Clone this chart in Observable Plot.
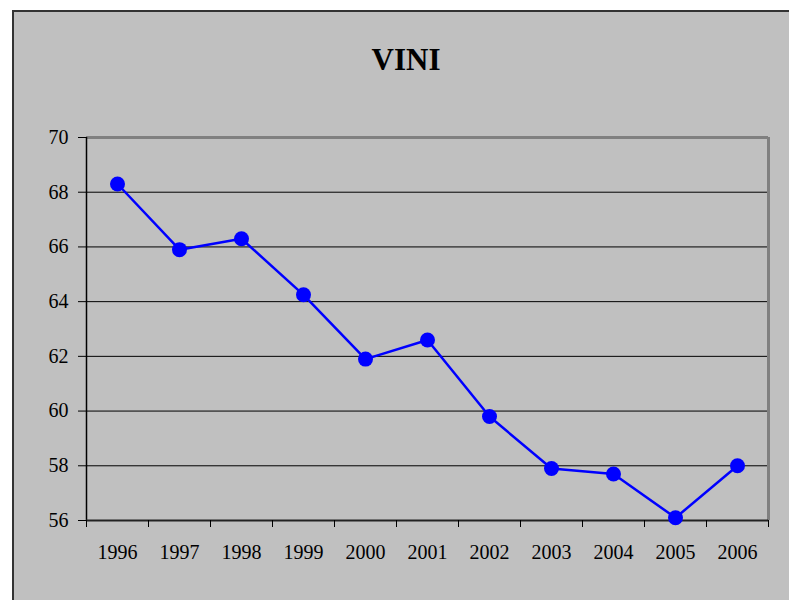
<!DOCTYPE html>
<html>
<head>
<meta charset="utf-8">
<script src="https://cdn.jsdelivr.net/npm/d3@7"></script>
<script src="https://cdn.jsdelivr.net/npm/@observablehq/plot@0.6"></script>
<style>
  html, body { margin: 0; padding: 0; background: #ffffff; }
  #wrap { position: relative; width: 789px; height: 600px; overflow: hidden; }
  #frame { position: absolute; left: 12px; top: 10px; width: 820px; height: 640px;
           border: 2px solid #333333; background: #c0c0c0; }
  #title { position: absolute; left: 0; width: 812px; top: 42px; text-align: center;
           font-family: "Liberation Serif", serif; font-weight: bold; font-size: 31px; color: #000; }
  #chart { position: absolute; left: 0; top: 0; }
</style>
</head>
<body>
<div id="wrap">
  <div id="frame"></div>
  <div id="title">VINI</div>
  <div id="chart"></div>
</div>
<script>
const years = [1996, 1997, 1998, 1999, 2000, 2001, 2002, 2003, 2004, 2005, 2006];
const values = [68.3, 65.9, 66.3, 64.25, 61.9, 62.6, 59.8, 57.9, 57.7, 56.1, 58.0];
const yTicks = [56, 58, 60, 62, 64, 66, 68, 70];
const gridLines = [58, 60, 62, 64, 66, 68];

const data = years.map((y, i) => ({year: y, value: values[i]}));
const bounds = years.map(y => y - 0.5).concat([years[years.length - 1] + 0.5]);

const chart = Plot.plot({
  width: 789,
  height: 600,
  marginLeft: 86,
  marginRight: 21,
  marginTop: 137,
  marginBottom: 80,
  style: {background: "transparent", fontFamily: "Liberation Serif, serif", fontSize: "20px", color: "#000"},
  x: {type: "linear", domain: [bounds[0], bounds[bounds.length - 1]]},
  y: {domain: [56, 70]},
  marks: [
    Plot.ruleY(gridLines, {stroke: "#000", strokeWidth: 1}),
    Plot.ruleY([70], {stroke: "#808080", strokeWidth: 3}),
    Plot.ruleX([bounds[bounds.length - 1]], {stroke: "#808080", strokeWidth: 3}),
    Plot.ruleX([bounds[0]], {stroke: "#000", strokeWidth: 1.5}),
    Plot.ruleY([56], {stroke: "#222", strokeWidth: 2}),
    Plot.axisY({ticks: yTicks, tickSize: 8, tickPadding: 10, label: null, tickFormat: d => String(d)}),
    Plot.axisX({ticks: bounds, tickSize: 7, text: null, label: null}),
    Plot.axisX({ticks: years, tickSize: 0, tickPadding: 24, label: null, tickFormat: d => String(d)}),
    Plot.line(data, {x: "year", y: "value", stroke: "#0000ff", strokeWidth: 2.5}),
    Plot.dot(data, {x: "year", y: "value", r: 7.5, fill: "#0000ff", stroke: "none"})
  ]
});
document.getElementById("chart").appendChild(chart);
</script>
</body>
</html>
